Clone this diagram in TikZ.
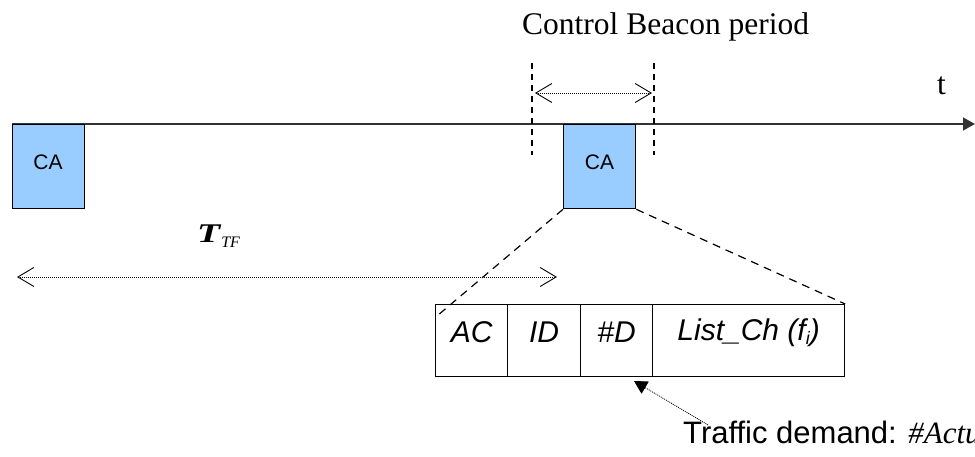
\documentclass[tikz,border=0pt]{standalone}
\usepackage{fontspec}
\setmainfont{Liberation Serif}
\newfontfamily\arialf{Liberation Sans}
\usetikzlibrary{arrows.meta}
\definecolor{cablue}{HTML}{99CCFF}
\definecolor{axisgray}{HTML}{333333}
\begin{document}
\begin{tikzpicture}[x=1pt,y=-1pt,
  cabox/.style={draw=black, line width=1.3pt, fill=cablue, minimum width=72pt,
    minimum height=84pt, inner sep=0pt, anchor=north west},
  calabel/.style={font=\arialf\fontsize{21}{21}\selectfont, inner sep=0pt},
  cell/.style={draw=black, line width=1.2pt, minimum height=72pt, inner sep=0pt,
    anchor=north west},
  celltext/.style={font=\arialf\itshape\fontsize{30}{30}\selectfont, inner sep=0pt},
  serif/.style={font=\fontsize{31.5}{31.5}\selectfont, inner sep=0pt},
  dotline/.style={line width=0.8pt, dash pattern=on 1pt off 1pt},
  openhead/.style={{Straight Barb[length=16pt,width=19pt,line width=0.9pt]}-{Straight Barb[length=16pt,width=19pt,line width=0.9pt]}},
  vdash/.style={line width=1.3pt, dash pattern=on 6pt off 5pt},
  zoomdash/.style={line width=1.2pt, dash pattern=on 8pt off 6pt},
]
\useasboundingbox (0,0) rectangle (975,457);
\clip (0,0) rectangle (975,457);

% time axis
\coordinate (axisL) at (12,124);
\coordinate (axisR) at (975,124);
\draw[line width=1.3pt, draw=axisgray, -{Triangle[length=12pt,width=13pt]}] (axisL) -- (axisR);
\node[serif, anchor=base west] (tlab) at (937,95) {t};

% control-beacon slots
\node[cabox] (ca1) at (12,124) {};
\node[calabel] (ca1t) at (48,162) {CA};
\node[cabox] (ca2) at (563,124) {};
\node[calabel] (ca2t) at (599.5,162) {CA};

% control beacon period
\node[serif, anchor=base west] (cbp) at (522,35) {Control Beacon period};
\coordinate (v1a) at (532,63);
\coordinate (v1b) at (532,155);
\coordinate (v2a) at (654,63);
\coordinate (v2b) at (654,155);
\draw[vdash] (v1a) -- (v1b);
\draw[vdash] (v2a) -- (v2b);
\coordinate (pa) at (535,93);
\coordinate (pb) at (652,93);
\draw[dotline, openhead] (pa) -- (pb);

% frame length
\node[inner sep=0pt, anchor=base west] (ttf) at (197,243)
  {\scalebox{1.4}[1]{\fontsize{27}{27}\selectfont\bfseries\itshape T}\hspace{1pt}\fontsize{16}{16}\selectfont\mdseries\raisebox{-5pt}{\itshape TF}};
\coordinate (fa) at (17,277);
\coordinate (fb) at (557,277);
\draw[dotline, openhead] (fa) -- (fb);

% beacon fields
\node[cell, minimum width=72pt] (ac) at (435,304) {};
\node[cell, minimum width=73pt] (id) at (507,304) {};
\node[cell, minimum width=72pt] (nd) at (580,304) {};
\node[cell, minimum width=192pt] (lc) at (652,304) {};
\node[celltext] at ([yshift=8pt]ac.center) {AC};
\node[celltext] at ([yshift=8pt]id.center) {ID};
\node[celltext] at ([yshift=8pt]nd.center) {\#D};
\node[celltext] at ([yshift=8pt]lc.center) {List\_Ch (f\raisebox{-4pt}{\fontsize{18}{18}\selectfont i})};

% zoom lines from the second slot to the fields
\coordinate (acin) at (437,316);
\draw[zoomdash] (ca2.south west) -- (acin);
\draw[zoomdash] (ca2.south east) -- (lc.north east);

% traffic demand callout
\node[inner sep=0pt, anchor=base west] (td) at (683,443)
  {\arialf\fontsize{31}{31}\selectfont Traffic demand: \rmfamily\itshape\#Actu};
\coordinate (tdstart) at (708,425);
\coordinate (tdtip) at (634,381);
\draw[dotline, -{Triangle[length=13pt,width=14pt]}] (tdstart) -- (tdtip);
\end{tikzpicture}
\end{document}
